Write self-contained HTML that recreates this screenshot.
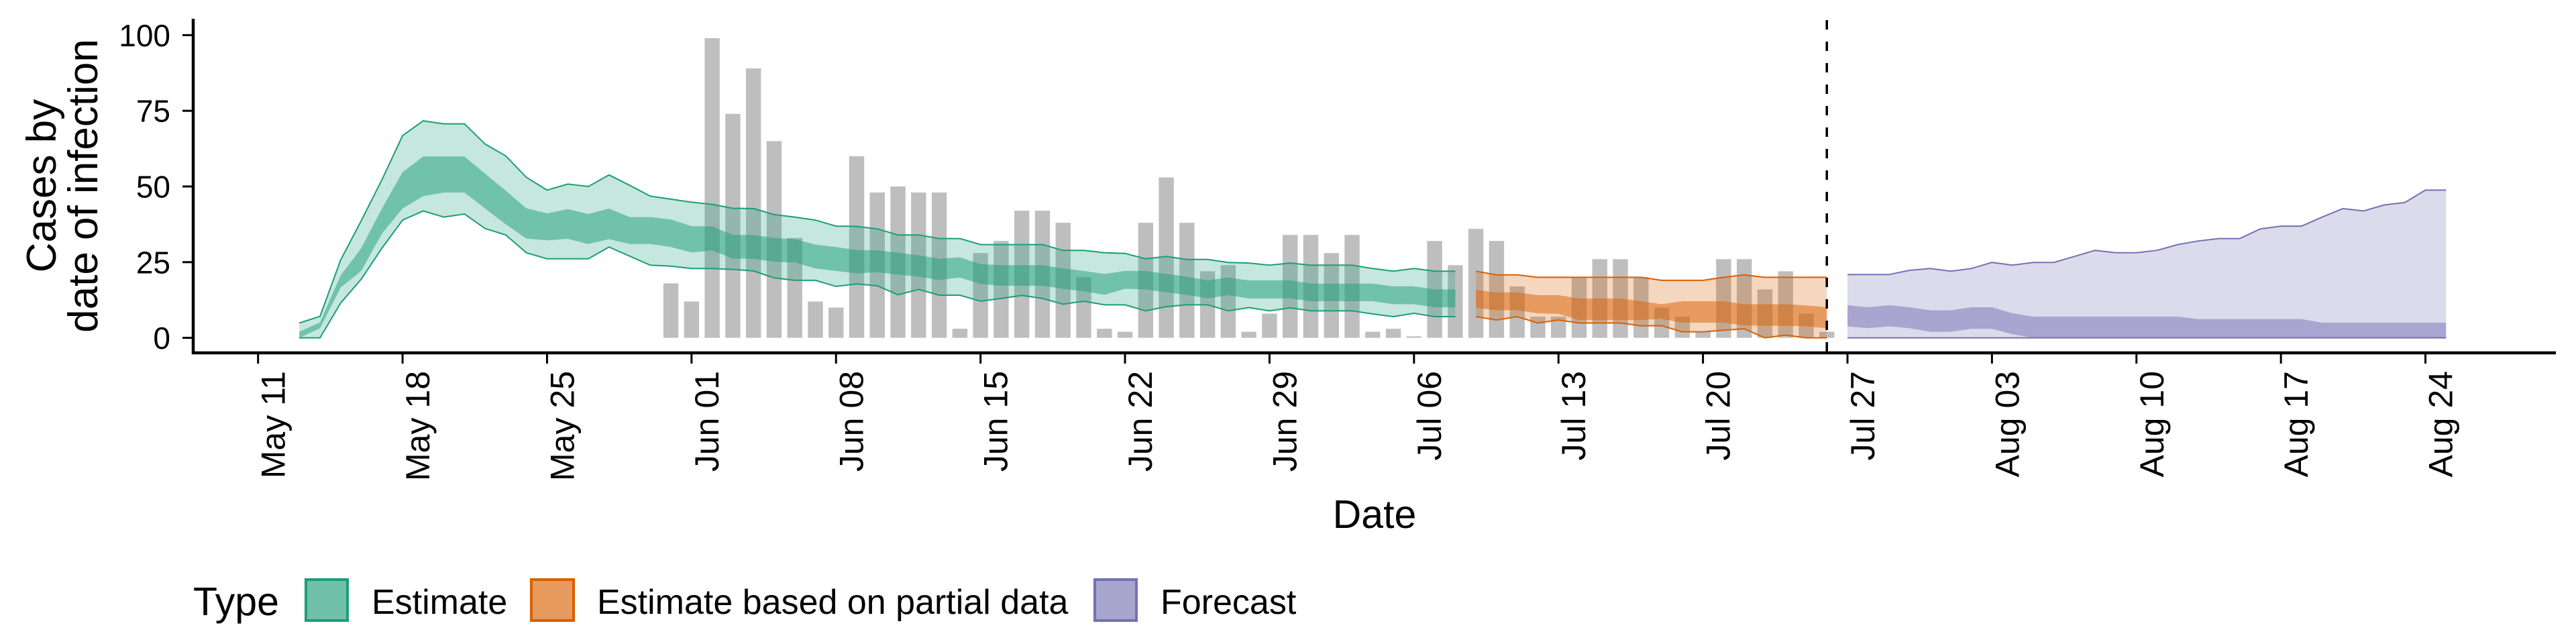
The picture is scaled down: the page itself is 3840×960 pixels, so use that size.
<!DOCTYPE html>
<html><head><meta charset="utf-8">
<style>
html,body{margin:0;padding:0;background:#fff;}
svg{display:block;font-family:"Liberation Sans",Arial,sans-serif;}
</style></head>
<body>
<svg id="chart" width="3840" height="960" viewBox="0 0 3840 960" xmlns="http://www.w3.org/2000/svg">
  <g id="bars"></g>
  <g id="ribbons"></g>
  <g id="axes"></g>
  <text x="2049" y="787" font-size="59" text-anchor="middle">Date</text>
  <text transform="translate(83,277) rotate(-90)" font-size="62" text-anchor="middle">Cases by</text>
  <text transform="translate(145,277) rotate(-90)" font-size="62" text-anchor="middle">date of infection</text>
  <g>
    <text x="288" y="917" font-size="59">Type</text>
    <rect x="456" y="864" width="62" height="61" fill="#70c1a7" stroke="#1b9e77" stroke-width="4"/>
    <text x="554" y="915" font-size="52">Estimate</text>
    <rect x="792" y="864" width="63" height="61" fill="#e69a5e" stroke="#d95f02" stroke-width="4"/>
    <text x="890" y="915" font-size="52">Estimate based on partial data</text>
    <rect x="1632" y="864" width="62" height="61" fill="#a8a5cf" stroke="#7570b3" stroke-width="4"/>
    <text x="1730" y="915" font-size="52">Forecast</text>
  </g>
</svg>
<script>
// ---- data (day offsets from May 11) ----
const barStartDay = 20;
const barValues = [18,12,99,74,89,65,33,12,10,60,48,50,48,48,3,28,32,42,42,38,20,3,2,38,53,38,22,24,2,8,34,34,28,34,2,3,0.5,32,24,36,32,17,7,7,20,26,26,20,10,7,2,26,26,16,22,8,2];

const estStartDay = 2;
const estUpper90 = [4.9,7.1,25.7,38.7,52.2,66.8,71.7,70.7,70.7,64.0,60.1,53.0,48.8,50.8,50.0,53.8,50.4,46.8,45.8,44.8,44.1,42.8,42.7,40.7,39.9,38.9,36.9,36.8,36.0,34,34,32.8,32.8,30.8,30.8,30.8,30.8,28.9,28.9,28.1,27.9,26.1,26.9,25.9,25.9,24.9,24.7,24,24.7,24,24,24,22.9,22.0,22.9,22.0,22.0];
const estLower90 = [0,0,11.5,19.4,29.6,38.9,41.9,39.9,40.9,36.1,34,28.1,26.1,26.1,26.1,30,27,24,23.7,22.9,22.9,22.6,22.1,19.8,19.0,19.0,17,17.8,17.2,14.2,16.0,14.1,14.1,12.1,13,14.0,13,11.1,12.1,10.9,10.9,8.9,10.3,10.9,10.9,8.9,10.0,8.9,9.9,8.9,8.9,8.9,7.9,7.0,8.1,7.0,7.0];
const estUpper50 = [2,5.1,20.6,29.6,42.7,54.7,59.9,59.9,59.9,54.2,48.6,42.8,41.1,42.5,40.9,42.7,39.9,39.9,39.1,36.9,36.8,34,34,33,32.6,30.8,30,29.0,28.9,28.1,27.3,26.1,26.6,24.3,24,24,24,22.9,22.1,21.1,22.1,22.1,21.1,20.2,19.0,19.9,19.0,19.0,19.0,17.9,17.9,17.9,17.9,17,17,16.0,16.0];
const estLower50 = [0,3.2,16.6,22.1,34.4,42.7,46.8,48.0,48.0,42.7,37.5,32.8,32.2,32.7,31.0,32.6,31.0,31.0,30,28.2,28.9,26.2,26.1,25.1,24.9,22.9,22.1,21.3,21.7,20.9,20.2,19.1,19.9,17.8,17.2,17.2,17.2,16.2,15.4,14.2,16.2,16.0,15.0,14.2,13.0,14.1,13.0,13.0,13.0,12.1,12.1,12.1,12.1,11.1,11.1,10.1,10.1];

const partStartDay = 59;
const partUpper90 = [22.0,20.8,20.8,20,20,20,20,20,20,19,19,19,20,20.8,20,20,20,20];
const partLower90 = [7.0,5.9,7.0,4.9,5.9,4.9,4.9,4.9,4.0,4.0,2,2,2.5,3.0,0,0.9,0,0];
const partUpper50 = [15.8,15.0,15.0,14.1,14.1,13,13,13,12.1,11.1,12.1,12.1,12.1,11.1,11.1,11.1,10.7,10.1];
const partLower50 = [9.9,9.1,9.1,8.1,7.9,5.9,5.9,5.9,5.9,6.3,5.0,5.0,5.0,4.1,4.0,4.0,3.8,3.2];

const fcStartDay = 77;
const fcUpper90 = [20.9,20.9,20.9,22.3,22.9,22,22.9,24.9,24,24.9,24.9,26.9,28.9,28.1,28.1,28.9,30.8,32.0,32.8,32.8,36.0,36.9,36.9,39.9,42.7,41.9,43.9,44.7,48.8,48.8];
const fcLower90 = [0,0,0,0,0,0,0,0,0,0,0,0,0,0,0,0,0,0,0,0,0,0,0,0,0,0,0,0,0,0];
const fcUpper50 = [10.8,10.1,10.8,10.1,9.1,9.1,10.1,10.1,8.1,7.0,7.0,7.0,7.0,7.0,7.0,7.0,7.0,6.2,6.2,6.2,6.2,6.2,6.2,5.0,5.0,5.0,5.0,5.0,5.0,5.0];
const fcLower50 = [3.8,3.2,3.8,3.2,2,2,3.0,3.0,1.2,0,0,0,0,0,0,0,0,0,0,0,0,0,0,0,0,0,0,0,0,0];

const forecastCutDay = 76;
const yTicks = [0,25,50,75,100];
const xTickDays = [0,7,14,21,28,35,42,49,56,63,70,77,84,91,98,105];
const xTickLabels = ["May 11","May 18","May 25","Jun 01","Jun 08","Jun 15","Jun 22","Jun 29","Jul 06","Jul 13","Jul 20","Jul 27","Aug 03","Aug 10","Aug 17","Aug 24"];

// ---- scales ----
const NS = "http://www.w3.org/2000/svg";
function xs(d){ return 384.7 + 30.77*d; }
function ys(v){ return 503.6 - v*4.5124; }
function mk(tag, attrs, parent){
  const e = document.createElementNS(NS, tag);
  for (const k in attrs) e.setAttribute(k, attrs[k]);
  parent.appendChild(e); return e;
}

// bars
const gb = document.getElementById('bars');
barValues.forEach((v,i)=>{
  const d = barStartDay + i;
  const r = mk('rect', {x: xs(d)-11.2, y: ys(v), width: 22.4, height: ys(0)-ys(v), fill: '#bebebe'}, gb);
  
  
});

// ribbons
const gr = document.getElementById('ribbons');
function areaPath(start, up, lo){
  let p = '';
  up.forEach((v,i)=>{ p += (i?'L':'M') + xs(start+i).toFixed(1) + ',' + ys(v).toFixed(1); });
  for (let i = lo.length-1; i >= 0; i--) p += 'L' + xs(start+i).toFixed(1) + ',' + ys(lo[i]).toFixed(1);
  return p + 'Z';
}
function linePath(start, arr){
  return arr.map((v,i)=>(i?'L':'M') + xs(start+i).toFixed(1) + ',' + ys(v).toFixed(1)).join('');
}
function ribbon(name, start, u90, l90, u50, l50, col){
  const o = mk('path', {d: areaPath(start,u90,l90), fill: col, 'fill-opacity': 0.25}, gr);
  
  
  const n = mk('path', {d: areaPath(start,u50,l50), fill: col, 'fill-opacity': 0.5}, gr);
  
  
  const a = mk('path', {d: linePath(start,u90), fill: 'none', stroke: col, 'stroke-width': 2}, gr);
  
  
  const b = mk('path', {d: linePath(start,l90), fill: 'none', stroke: col, 'stroke-width': 2}, gr);
  
  
}
ribbon('estimate', estStartDay, estUpper90, estLower90, estUpper50, estLower50, '#1b9e77');
ribbon('partial', partStartDay, partUpper90, partLower90, partUpper50, partLower50, '#d95f02');
ribbon('forecast', fcStartDay, fcUpper90, fcLower90, fcUpper50, fcLower50, '#7570b3');

// axes
const ga = document.getElementById('axes');
const cut = mk('line', {x1: xs(forecastCutDay), x2: xs(forecastCutDay), y1: 30, y2: 526, stroke: '#000', 'stroke-width': 3.5, 'stroke-dasharray': '14,18'}, ga);


const yl = mk('line', {x1: 288, x2: 288, y1: 28, y2: 528, stroke: '#000', 'stroke-width': 4.5}, ga);


const xl = mk('line', {x1: 286, x2: 3810, y1: 526, y2: 526, stroke: '#000', 'stroke-width': 4.5}, ga);


yTicks.forEach(v=>{
  const t = mk('line', {x1: 272, x2: 288, y1: ys(v), y2: ys(v), stroke: '#000', 'stroke-width': 3}, ga);
  
  
  const l = mk('text', {x: 254, y: ys(v)+16.5, 'font-size': 46, 'text-anchor': 'end'}, ga);
  
  
  l.textContent = v;
});
xTickDays.forEach((d,i)=>{
  const x = xs(d);
  const t = mk('line', {x1: x, x2: x, y1: 526, y2: 542, stroke: '#000', 'stroke-width': 3}, ga);
  
  
  const l = mk('text', {transform: 'translate(' + (x+40).toFixed(1) + ',553) rotate(-90)', 'font-size': 50, 'text-anchor': 'end'}, ga);
  
  
  l.textContent = xTickLabels[i];
});
</script>
</body></html>
